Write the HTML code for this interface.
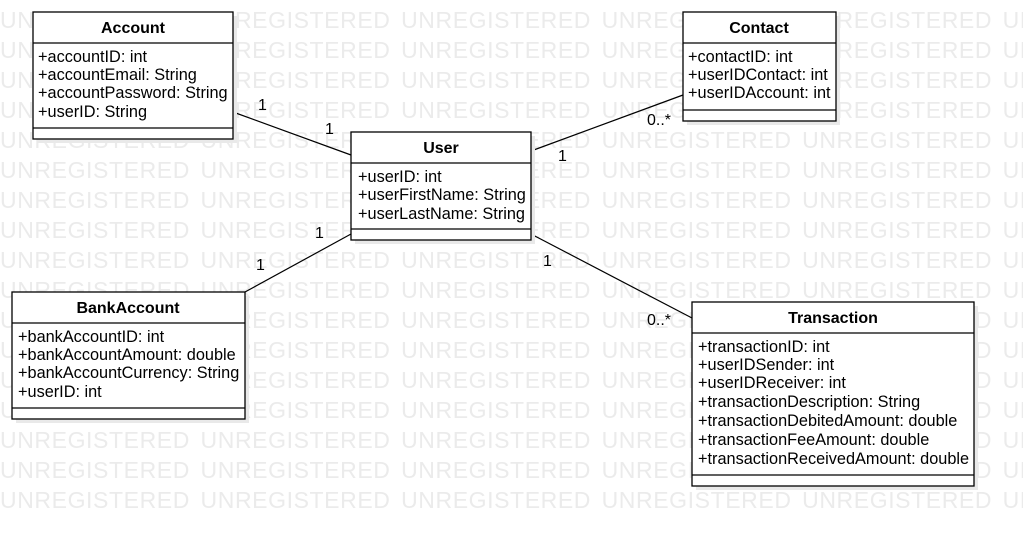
<!DOCTYPE html>
<html><head><meta charset="utf-8"><style>
body{margin:0;background:#fff;}
svg{display:block;font-family:"Liberation Sans",Arial,sans-serif;}
</style></head><body>
<svg width="1023" height="536" viewBox="0 0 1023 536" xmlns="http://www.w3.org/2000/svg">
<g fill="#ebebeb" font-size="23" letter-spacing="0.6" word-spacing="3.6">
<text x="0" y="28">UNREGISTERED UNREGISTERED UNREGISTERED UNREGISTERED UNREGISTERED UNREGISTERED</text>
<text x="0" y="58">UNREGISTERED UNREGISTERED UNREGISTERED UNREGISTERED UNREGISTERED UNREGISTERED</text>
<text x="0" y="88">UNREGISTERED UNREGISTERED UNREGISTERED UNREGISTERED UNREGISTERED UNREGISTERED</text>
<text x="0" y="118">UNREGISTERED UNREGISTERED UNREGISTERED UNREGISTERED UNREGISTERED UNREGISTERED</text>
<text x="0" y="148">UNREGISTERED UNREGISTERED UNREGISTERED UNREGISTERED UNREGISTERED UNREGISTERED</text>
<text x="0" y="178">UNREGISTERED UNREGISTERED UNREGISTERED UNREGISTERED UNREGISTERED UNREGISTERED</text>
<text x="0" y="208">UNREGISTERED UNREGISTERED UNREGISTERED UNREGISTERED UNREGISTERED UNREGISTERED</text>
<text x="0" y="238">UNREGISTERED UNREGISTERED UNREGISTERED UNREGISTERED UNREGISTERED UNREGISTERED</text>
<text x="0" y="268">UNREGISTERED UNREGISTERED UNREGISTERED UNREGISTERED UNREGISTERED UNREGISTERED</text>
<text x="0" y="298">UNREGISTERED UNREGISTERED UNREGISTERED UNREGISTERED UNREGISTERED UNREGISTERED</text>
<text x="0" y="328">UNREGISTERED UNREGISTERED UNREGISTERED UNREGISTERED UNREGISTERED UNREGISTERED</text>
<text x="0" y="358">UNREGISTERED UNREGISTERED UNREGISTERED UNREGISTERED UNREGISTERED UNREGISTERED</text>
<text x="0" y="388">UNREGISTERED UNREGISTERED UNREGISTERED UNREGISTERED UNREGISTERED UNREGISTERED</text>
<text x="0" y="418">UNREGISTERED UNREGISTERED UNREGISTERED UNREGISTERED UNREGISTERED UNREGISTERED</text>
<text x="0" y="448">UNREGISTERED UNREGISTERED UNREGISTERED UNREGISTERED UNREGISTERED UNREGISTERED</text>
<text x="0" y="478">UNREGISTERED UNREGISTERED UNREGISTERED UNREGISTERED UNREGISTERED UNREGISTERED</text>
<text x="0" y="508">UNREGISTERED UNREGISTERED UNREGISTERED UNREGISTERED UNREGISTERED UNREGISTERED</text>
</g>

<g stroke="#000" stroke-width="1.2" fill="none">
<line x1="233" y1="112" x2="351" y2="155"/>
<line x1="531" y1="151" x2="683" y2="95"/>
<line x1="351" y1="234" x2="245" y2="292"/>
<line x1="531" y1="234" x2="692" y2="318"/>
</g>
<g font-size="16" fill="#000">
<text x="258" y="110">1</text>
<text x="325" y="134">1</text>
<text x="647" y="125">0..*</text>
<text x="558" y="161">1</text>
<text x="315" y="238">1</text>
<text x="256" y="270">1</text>
<text x="543" y="266">1</text>
<text x="647" y="325">0..*</text>
</g>

<g fill="#e9e9e9">
<rect x="37" y="16" width="200" height="127"/>
<rect x="355" y="136" width="180" height="108"/>
<rect x="687" y="16" width="153" height="109"/>
<rect x="16" y="296" width="233" height="127"/>
<rect x="696" y="306" width="282" height="184"/>
</g>

<g stroke="#000" stroke-width="1.3" fill="#fff">
<rect x="33" y="12" width="200" height="127"/>
<line x1="33" y1="43" x2="233" y2="43"/><line x1="33" y1="128" x2="233" y2="128"/>
<rect x="351" y="132" width="180" height="108"/>
<line x1="351" y1="163" x2="531" y2="163"/><line x1="351" y1="229" x2="531" y2="229"/>
<rect x="683" y="12" width="153" height="109"/>
<line x1="683" y1="43" x2="836" y2="43"/><line x1="683" y1="110" x2="836" y2="110"/>
<rect x="12" y="292" width="233" height="127"/>
<line x1="12" y1="323" x2="245" y2="323"/><line x1="12" y1="408" x2="245" y2="408"/>
<rect x="692" y="302" width="282" height="184"/>
<line x1="692" y1="333" x2="974" y2="333"/><line x1="692" y1="475" x2="974" y2="475"/>
</g>

<g font-size="16" font-weight="bold" text-anchor="middle" fill="#000">
<text x="133" y="33">Account</text>
<text x="441" y="153">User</text>
<text x="759" y="33">Contact</text>
<text x="128" y="313">BankAccount</text>
<text x="833" y="323">Transaction</text>
</g>
<g font-size="16.3" fill="#000">
<text x="38" y="62">+accountID: int</text>
<text x="38" y="80">+accountEmail: String</text>
<text x="38" y="98">+accountPassword: String</text>
<text x="38" y="117">+userID: String</text>
<text x="358" y="182">+userID: int</text>
<text x="358" y="200">+userFirstName: String</text>
<text x="358" y="219">+userLastName: String</text>
<text x="688" y="62">+contactID: int</text>
<text x="688" y="80">+userIDContact: int</text>
<text x="688" y="98">+userIDAccount: int</text>
<text x="18" y="342">+bankAccountID: int</text>
<text x="18" y="360">+bankAccountAmount: double</text>
<text x="18" y="378">+bankAccountCurrency: String</text>
<text x="18" y="397">+userID: int</text>
<text x="698" y="352">+transactionID: int</text>
<text x="698" y="370">+userIDSender: int</text>
<text x="698" y="388">+userIDReceiver: int</text>
<text x="698" y="407">+transactionDescription: String</text>
<text x="698" y="426">+transactionDebitedAmount: double</text>
<text x="698" y="445">+transactionFeeAmount: double</text>
<text x="698" y="464">+transactionReceivedAmount: double</text>
</g>
</svg>
</body></html>
